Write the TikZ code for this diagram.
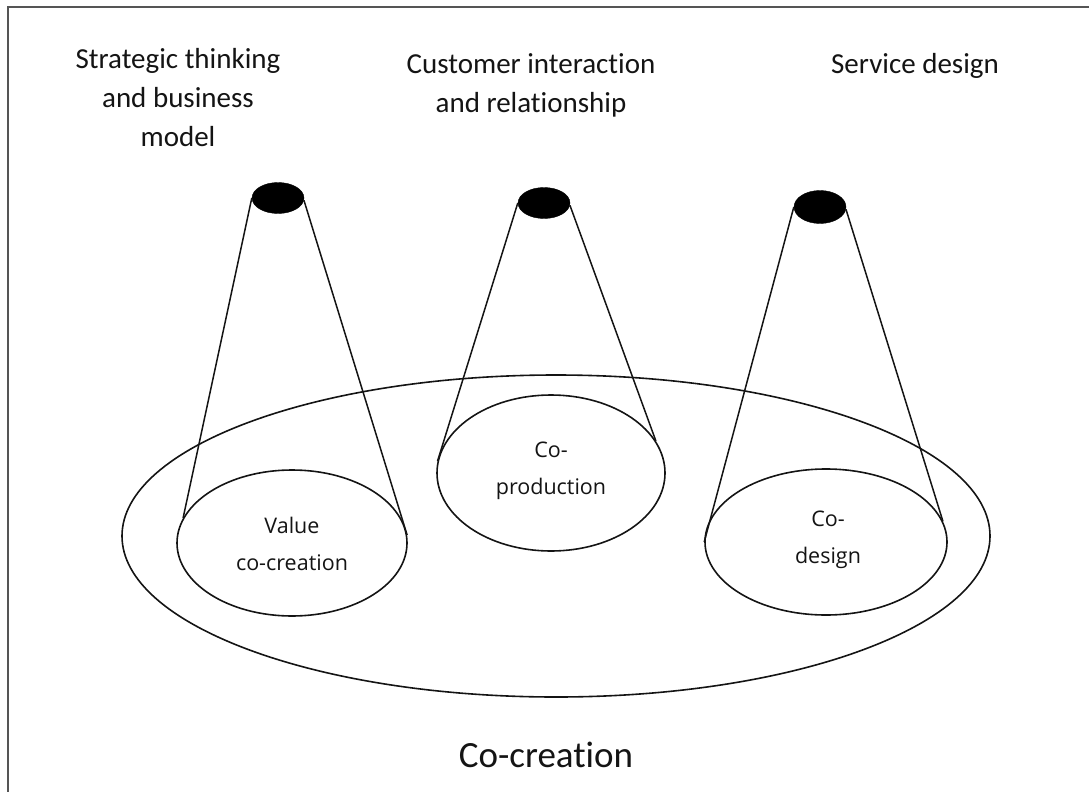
\documentclass[tikz,border=0pt]{standalone}
\usepackage{fontspec}
\setmainfont{Carlito}[Ligatures=NoCommon]
\newfontfamily\innerfont{Open Sans}
\usetikzlibrary{shapes.geometric}
\definecolor{ink}{HTML}{141414}
\definecolor{framegray}{HTML}{555555}
\begin{document}
\begin{tikzpicture}[x=1pt,y=-1pt,
  toplabel/.style={align=center,text=ink,font=\fontsize{29}{39}\selectfont},
  innerlabel/.style={align=center,text=ink,font=\innerfont\fontsize{21.5}{37.5}\selectfont},
  lens/.style={ellipse,draw=ink,line width=1.6pt,inner sep=0pt},
  spot/.style={ellipse,fill=black,draw=black,inner sep=0pt,minimum width=52pt,minimum height=31pt},
  ray/.style={draw=ink,line width=1.5pt}]
\useasboundingbox (0,0) rectangle (1089,792);
% frame (top and left edges)
\draw[framegray,line width=2pt] (8,792) -- (8,7) -- (1089,7);

% the outer co-creation field
\node[lens,minimum width=868pt,minimum height=322pt] (field) at (556,536) {};

% the three focus areas
\node[lens,minimum width=230pt,minimum height=146pt] (vcc) at (292,543) {};
\node[lens,minimum width=228pt,minimum height=156pt] (cpr) at (551,473) {};
\node[lens,minimum width=242pt,minimum height=146pt] (cds) at (826,542) {};

% light sources
\node[spot] (s1) at (278,198) {};
\node[spot] (s2) at (544,203) {};
\node[spot,minimum height=33pt] (s3) at (820,207) {};

% beams
\draw[ray] (s1.west) -- (vcc.167);
\draw[ray] (s1.-5) -- (vcc.4);
\draw[ray] (s2.west) -- (cpr.174);
\draw[ray] (s2.-5) -- (cpr.17);
\draw[ray] (s3.west) -- (cds.180);
\draw[ray] (s3.-5) -- (cds.10);

% inner labels
\node[innerlabel] (tv) at (292,544) {Value\\co-creation};
\node[innerlabel] (tp) at (551,471) {Co-\\production};
\node[innerlabel] (td) at (828,540) {Co-\\design};

% headings
\node[toplabel] (h1) at (178,98) {Strategic thinking\\and business\\model};
\node[toplabel] (h2) at (531,85) {Customer interaction\\and relationship};
\node[toplabel] (h3) at (915,66) {Service design};

% caption
\node[text=ink,font=\fontsize{37}{44}\selectfont] (cap) at (546,755) {Co-creation};
\end{tikzpicture}
\end{document}
